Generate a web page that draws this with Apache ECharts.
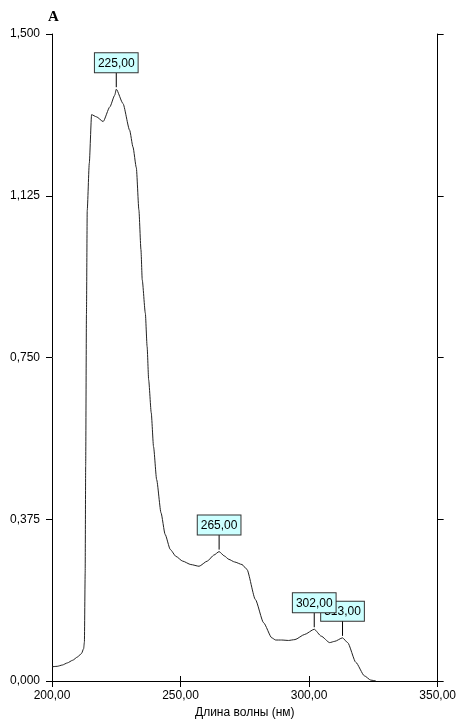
<!DOCTYPE html>
<html>
<head>
<meta charset="utf-8">
<script src="https://cdn.jsdelivr.net/npm/echarts@6/dist/echarts.min.js"></script>
<style>
  html, body { margin: 0; padding: 0; background: #fff; }
  #chart { width: 459px; height: 724px; }
</style>
</head>
<body>
<div id="chart"></div>
<script>
// UV absorption spectrum: wavelength (nm) against absorbance (A)
const wavelength = [
  200, 202, 204, 206, 208, 210, 211.5, 212.3, 212.6, 212.9, 213.1, 213.4, 213.7, 214.5, 215.4,
  217.3, 219.9, 222.5, 224.4, 225, 227.6, 230.2, 231.5, 232.8, 233.8, 234.6, 235.1,
  236.3, 237, 237.6, 238.6, 239.5, 240.7, 242.4, 244, 246, 248.2, 250.8, 254, 257.2,
  260.4, 263, 265, 267, 268.8, 271, 273.9, 275.8, 279.1, 282.3, 285.5, 287, 289.3,
  292, 294.5, 298.3, 302, 304.7, 308, 310, 313, 315, 318.2, 321.5, 324, 326
];
const absorbance = [
  0.033, 0.034, 0.037, 0.042, 0.048, 0.056, 0.064, 0.075, 0.090, 0.250, 0.500, 0.850, 1.091, 1.200, 1.313,
  1.308, 1.297, 1.331, 1.358, 1.372, 1.339, 1.277, 1.238, 1.190, 1.092, 1.000, 0.930,
  0.853, 0.775, 0.698, 0.622, 0.543, 0.467, 0.390, 0.340, 0.305, 0.289, 0.278, 0.270, 0.266,
  0.278, 0.292, 0.300, 0.290, 0.282, 0.276, 0.270, 0.259, 0.189, 0.135, 0.100, 0.095, 0.095,
  0.094, 0.096, 0.108, 0.120, 0.104, 0.089, 0.092, 0.100, 0.089, 0.043, 0.012, 0.002, 0.000
];

// Marked peaks (later entries are drawn on top)
const peakWavelength = [225, 265, 313, 302];
const peakAbsorbance = [1.372, 0.300, 0.100, 0.120];
const peakLabels = ['225,00', '265,00', '313,00', '302,00'];

const yTicks = [0, 0.375, 0.75, 1.125, 1.5];

const spectrum = wavelength.map((w, i) => [w, absorbance[i]]);
const peaks = peakWavelength.map((w, i) => [w, peakAbsorbance[i], i]);

const font = 'Liberation Sans';
const comma = (v, d) => v.toFixed(d).replace('.', ',');

const chart = echarts.init(document.getElementById('chart'), null, { renderer: 'canvas' });

const tickStyle = { show: true, length: 6, inside: false, lineStyle: { color: '#000', width: 1 } };
const lineStyle = { show: true, lineStyle: { color: '#000', width: 1 } };

chart.setOption({
  animation: false,
  backgroundColor: '#fff',
  title: {
    text: 'A',
    left: 43,
    top: 5,
    textStyle: { fontFamily: 'Liberation Serif', fontWeight: 'bold', fontSize: 15, color: '#000' }
  },
  grid: { left: 52, right: 18, top: 34, bottom: 42 },
  xAxis: [
    {
      type: 'value', position: 'bottom', min: 200, max: 350, interval: 50,
      axisLine: lineStyle, axisTick: tickStyle, splitLine: { show: false },
      axisLabel: { margin: 9, color: '#000', fontFamily: font, fontSize: 12, formatter: v => comma(v, 2) },
      name: 'Длина волны (нм)', nameLocation: 'middle', nameGap: 26,
      nameTextStyle: { color: '#000', fontFamily: font, fontSize: 12 }
    },
    {
      type: 'value', position: 'top', min: 200, max: 350, interval: 50,
      axisLine: lineStyle, axisTick: Object.assign({}, tickStyle, { length: 5 }),
      axisLabel: { show: false }, splitLine: { show: false }
    }
  ],
  yAxis: [
    {
      type: 'value', position: 'left', min: yTicks[0], max: yTicks[yTicks.length - 1], interval: 0.375,
      axisLine: lineStyle, axisTick: tickStyle, splitLine: { show: false },
      axisLabel: { margin: 12, color: '#000', fontFamily: font, fontSize: 12, formatter: v => comma(v, 3) }
    },
    {
      type: 'value', position: 'right', min: yTicks[0], max: yTicks[yTicks.length - 1], interval: 0.375,
      axisLine: lineStyle, axisTick: tickStyle, splitLine: { show: false },
      axisLabel: { show: false }
    }
  ],
  series: [
    {
      type: 'line',
      data: spectrum,
      showSymbol: false,
      smooth: 0.2,
      smoothMonotone: 'x',
      lineStyle: { color: '#222', width: 1 },
      silent: true
    },
    {
      type: 'custom',
      data: peaks,
      silent: true,
      renderItem: function (params, api) {
        const p = api.coord([api.value(0), api.value(1)]);
        const label = peakLabels[api.value(2)];
        return {
          type: 'group',
          children: [
            {
              type: 'line',
              shape: { x1: p[0], y1: p[1] - 2, x2: p[0], y2: p[1] - 17 },
              style: { stroke: '#000', lineWidth: 1 }
            },
            {
              type: 'text',
              x: p[0], y: p[1] - 17,
              style: {
                text: label,
                fontFamily: font, fontSize: 12, fill: '#000',
                align: 'center', verticalAlign: 'bottom',
                backgroundColor: '#CCFFFF', borderColor: '#333', borderWidth: 1,
                padding: [4, 3, 3, 3]
              }
            }
          ]
        };
      }
    }
  ]
});
</script>
</body>
</html>
